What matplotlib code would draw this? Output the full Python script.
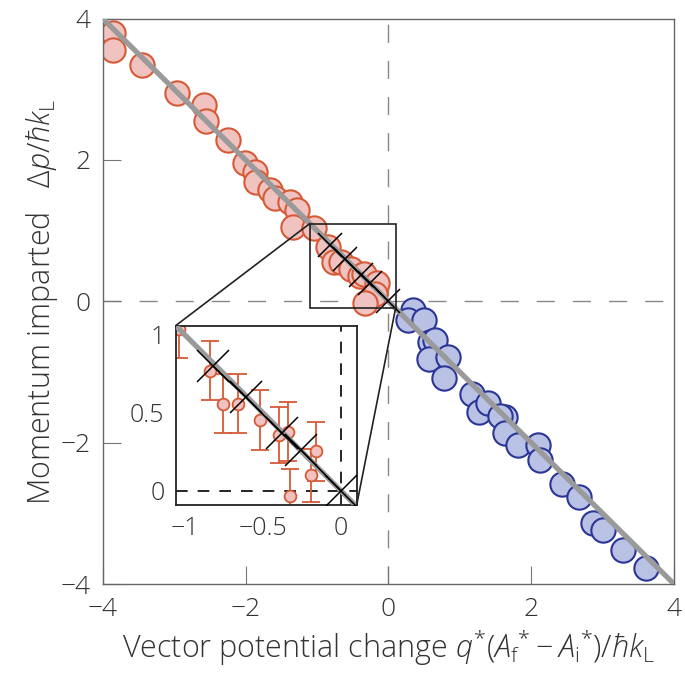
import matplotlib
matplotlib.use('Agg')
import matplotlib.pyplot as plt
from matplotlib.patches import Rectangle, ConnectionPatch

plt.rcParams['font.family'] = ['Open Sans', 'DejaVu Sans']
plt.rcParams['font.weight'] = 'light'
plt.rcParams['axes.labelweight'] = 'light'
plt.rcParams['mathtext.fontset'] = 'custom'
plt.rcParams['mathtext.rm'] = 'Open Sans:light'
plt.rcParams['mathtext.it'] = 'Open Sans:italic:light'
plt.rcParams['mathtext.bf'] = 'Open Sans:bold'
plt.rcParams['axes.unicode_minus'] = True

    # data
red_x = [-3.85, -3.85, -3.45, -2.96, -2.58, -2.56, -2.25, -2.01, -1.87, -1.86,
         -1.66, -1.59, -1.38, -1.28, -1.33]
red_y = [3.79, 3.55, 3.34, 2.94, 2.78, 2.55, 2.28, 1.95, 1.83, 1.69,
         1.57, 1.46, 1.41, 1.29, 1.05]

    # zoomed points (also shown in the main plot)
zoom_x = [-1.04, -0.84, -0.755, -0.66, -0.52, -0.40, -0.34, -0.16, -0.19, -0.33]
zoom_y = [1.04, 0.77, 0.56, 0.56, 0.455, 0.36, 0.38, 0.255, 0.10, -0.03]
zoom_err = [0.19, 0.19, 0.19, 0.19, 0.19, 0.18, 0.19, 0.19, 0.17, 0.17]

blue_x = [0.35, 0.27, 0.50, 0.58, 0.65, 0.57, 0.83, 0.78, 1.17, 1.27, 1.40, 1.63,
          1.56, 1.63, 1.82, 2.10, 2.12, 2.43, 2.67, 2.87, 3.00, 3.28, 3.61]
blue_y = [-0.12, -0.27, -0.26, -0.57, -0.55, -0.81, -0.79, -1.08, -1.31, -1.56,
          -1.44, -1.63, -1.62, -1.87, -2.03, -2.03, -2.25, -2.58, -2.77, -3.14,
          -3.23, -3.52, -3.77]

    # theory points (black crosses) and fit line
theory_x = [-0.82, -0.61, -0.38, -0.255, 0.0]
theory_y = [0.80, 0.60, 0.37, 0.26, 0.0]
fit_x = [-4, 4]
fit_y = [4, -4]

red_edge = '#d65a36'
red_fill = '#f0c2c0'
blue_edge = '#2a3596'
blue_fill = '#b9c1e5'
gray = '#9a9a9a'
txt = '#333333'

fig = plt.figure(figsize=(6.85, 6.78), dpi=100)
ax = fig.add_axes([0.150, 0.1386, 0.834, 0.834])

ax.axhline(0, color='#888888', lw=1.0, ls=(0, (13, 13)), zorder=1)
ax.axvline(0, color='#888888', lw=1.0, ls=(0, (13, 13)), zorder=1)

ax.plot(red_x + zoom_x, red_y + zoom_y, 'o', ms=17.5, mfc=red_fill, mec=red_edge,
        mew=1.5, zorder=2)
ax.plot(blue_x, blue_y, 'o', ms=17.5, mfc=blue_fill, mec=blue_edge, mew=1.5, zorder=2)
ax.plot(fit_x, fit_y, color=gray, lw=3.8, solid_capstyle='butt', zorder=3)
ax.plot(theory_x, theory_y, 'k-', lw=1.1, marker='x', ms=16.8, mew=1.1, zorder=4)

ax.set_xlim(-4, 4)
ax.set_ylim(-4, 4)
ax.set_xticks([-4, -2, 0, 2, 4])
ax.set_yticks([-4, -2, 0, 2, 4])
ax.tick_params(direction='in', length=13, width=0.8, color='#777777',
               labelsize=19, labelcolor=txt, pad=9)
for s in ax.spines.values():
    s.set_color('#666666')
    s.set_linewidth(1.0)

ax.set_xlabel(r'Vector potential change $q^{*}({A_{\mathrm{f}}}^{*}-{A_{\mathrm{i}}}^{*})/\hbar k_{\mathrm{L}}$',
              fontsize=22, color=txt, labelpad=4)
ax.set_ylabel(r'Momentum imparted   $\Delta p/\hbar k_{\mathrm{L}}$',
              fontsize=22, color=txt, labelpad=0)

    # zoom rectangle on main plot
rx0, rx1, ry0, ry1 = -1.1, 0.1, -0.1, 1.1
ax.add_patch(Rectangle((rx0, ry0), rx1 - rx0, ry1 - ry0, fill=False,
                       ec='#222222', lw=1.2, zorder=5))

    # inset
ins = fig.add_axes([0.2565, 0.2552, 0.2642, 0.2645])
ins.axhline(0, color='black', lw=1.2, ls=(0, (7, 6)), zorder=1)
ins.axvline(0, color='black', lw=1.2, ls=(0, (7, 6)), zorder=1)
ins.errorbar(zoom_x, zoom_y, yerr=zoom_err, fmt='o', ms=8.5, mfc=red_fill,
             mec=red_edge, mew=1.3, ecolor=red_edge, elinewidth=1.3,
             capsize=6.5, capthick=1.3, zorder=2)
ins.plot(fit_x, fit_y, color=gray, lw=3.8, zorder=3)
ins.plot(theory_x, theory_y, 'k-', lw=1.1, marker='x', ms=23, mew=1.1, zorder=4)
ins.set_xlim(-1.06, 0.1)
ins.set_ylim(-0.09, 1.06)
ins.set_xticks([-1, -0.5, 0])
ins.set_xticklabels(['\u22121', '\u22120.5', '0'])
ins.set_yticks([0, 0.5, 1])
ins.set_yticklabels(['0', '0.5', '1'])
ins.tick_params(length=0, labelsize=18, labelcolor=txt, pad=8)
for s in ins.spines.values():
    s.set_color('#222222')
    s.set_linewidth(1.3)

    # connector lines
for (ix, iy), (mx, my) in [((0, 1), (rx0, ry1)), ((1, 0), (rx1, ry0))]:
    con = ConnectionPatch(xyA=(ix, iy), coordsA=ins.transAxes,
                          xyB=(mx, my), coordsB=ax.transData,
                          color='#222222', lw=1.2)
    fig.add_artist(con)

fig.savefig('out.png', dpi=100)
